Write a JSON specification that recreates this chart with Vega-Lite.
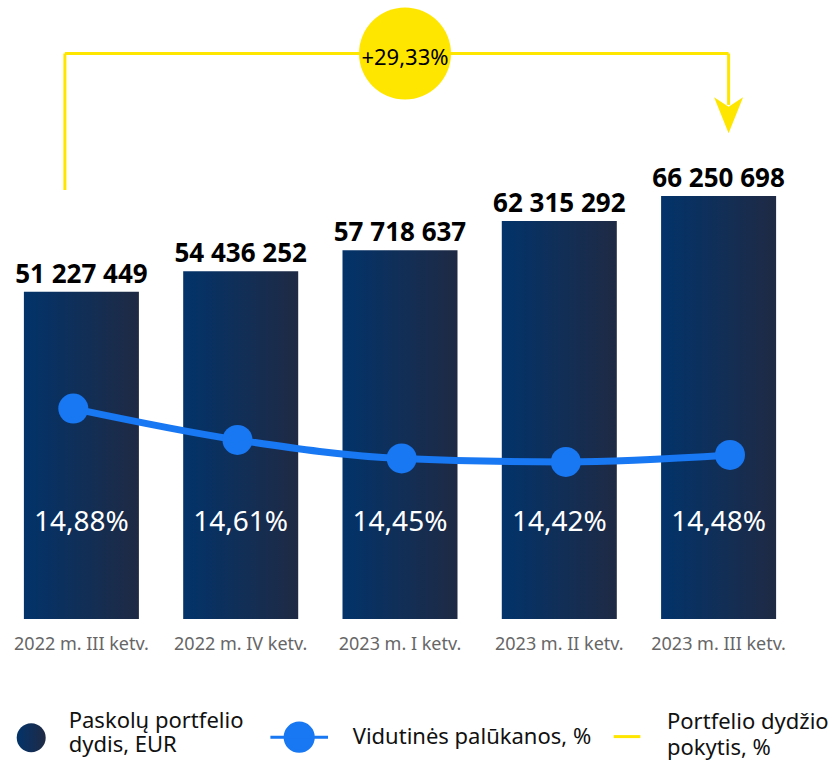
{
  "$schema": "https://vega.github.io/schema/vega-lite/v6.json",
  "width": 800,
  "height": 619,
  "autosize": {"type": "none"},
  "padding": {"left": 0, "top": 0, "right": 33, "bottom": 143},
  "background": "white",
  "config": {
    "view": {"stroke": null},
    "font": "Noto Sans",
    "locale": {"number": {"decimal": ",", "thousands": " ", "grouping": [3], "currency": ["", " €"]}}
  },
  "datasets": {
    "q": [
      {"quarter": "2022 m. III ketv.", "portfolio": 51227449, "rate": 0.1488},
      {"quarter": "2022 m. IV ketv.", "portfolio": 54436252, "rate": 0.1461},
      {"quarter": "2023 m. I ketv.", "portfolio": 57718637, "rate": 0.1445},
      {"quarter": "2023 m. II ketv.", "portfolio": 62315292, "rate": 0.1442},
      {"quarter": "2023 m. III ketv.", "portfolio": 66250698, "rate": 0.1448}
    ],
    "chg": [
      {"from": "2022 m. III ketv.", "to": "2023 m. III ketv.", "mid": "2023 m. I ketv.", "change": 0.2933}
    ]
  },
  "layer": [
    {
      "encoding": {
        "x": {
          "field": "quarter", "type": "nominal", "sort": null,
          "scale": {"domain": ["2022 m. III ketv.", "2022 m. IV ketv.", "2023 m. I ketv.", "2023 m. II ketv.", "2023 m. III ketv."], "paddingInner": 0.278, "paddingOuter": 0.15},
          "axis": {"title": null, "domain": false, "ticks": false, "labelAngle": 0, "labelFontSize": 18, "labelColor": "#666666", "labelPadding": 16, "labelFont": "Noto Sans", "labelLimit": 300}
        }
      },
      "layer": [
        {
          "data": {"name": "q"},
          "mark": {"type": "bar", "color": {"gradient": "linear", "x1": 0, "y1": 0, "x2": 1, "y2": 0, "stops": [{"offset": 0, "color": "#02336A"}, {"offset": 1, "color": "#1F2A44"}]}},
          "encoding": {
            "y": {"field": "portfolio", "type": "quantitative", "scale": {"domain": [0, 96920000], "nice": false}, "axis": null},
            "opacity": {
              "datum": "Paskolų portfelio dydis, EUR",
              "type": "ordinal",
              "scale": {"range": [1, 1]},
              "legend": {
                "title": null, "orient": "none", "legendX": 16.7, "legendY": 706.5,
                "padding": 0, "symbolType": "M-1,1.15A1,1,0,1,1,1,1.15A1,1,0,1,1,-1,1.15Z", "symbolSize": 841, "symbolStrokeWidth": 0,
                "labelFont": "Noto Sans", "labelFontSize": 22, "labelColor": "#111111", "labelLimit": 400, "labelOffset": 23,
                "labelExpr": "['Paskolų portfelio', 'dydis, EUR']",
                "encode": {
                  "symbols": {"update": {"fill": {"value": "#0E2F58"}, "opacity": {"value": 1}}}
                }
              }
            }
          }
        },
        {
          "data": {"name": "q"},
          "mark": {"type": "text", "baseline": "alphabetic", "dy": -9, "fontSize": 26, "fontWeight": "bold", "color": "#000000", "font": "Noto Sans"},
          "encoding": {
            "y": {"field": "portfolio", "type": "quantitative"},
            "text": {"field": "portfolio", "type": "quantitative", "format": ",.0f"}
          }
        },
        {
          "data": {"name": "q"},
          "mark": {"type": "text", "baseline": "alphabetic", "fontSize": 28, "color": "#FFFFFF", "font": "Noto Sans"},
          "encoding": {
            "y": {"datum": 13820000, "type": "quantitative"},
            "text": {"field": "rate", "type": "quantitative", "format": ".2%"}
          }
        },
        {
          "data": {"name": "chg"},
          "mark": {"type": "rule", "strokeWidth": 3, "xOffset": -16.5, "x2Offset": 10},
          "encoding": {
            "x": {"field": "from", "type": "nominal"},
            "x2": {"field": "to"},
            "y": {"datum": 88540000, "type": "quantitative"},
            "color": {
              "datum": "Portfelio dydžio pokytis, %",
              "scale": {"range": ["#FFE600"]},
              "legend": {
                "title": null, "orient": "none", "legendX": 612, "legendY": 721.6,
                "padding": 0, "symbolType": "stroke", "symbolSize": 713, "symbolStrokeWidth": 3,
                "labelFont": "Noto Sans", "labelFontSize": 22, "labelColor": "#111111", "labelLimit": 400, "labelOffset": 25,
                "labelExpr": "['Portfelio dydžio', 'pokytis, %']",
                "encode": {"labels": {"update": {"lineHeight": {"value": 26}, "dy": {"value": -15}}}}
              }
            }
          }
        },
        {
          "data": {"name": "chg"},
          "mark": {"type": "rule", "strokeWidth": 3, "xOffset": -16.5, "color": "#FFE600"},
          "encoding": {
            "x": {"field": "from", "type": "nominal"},
            "y": {"datum": 88540000, "type": "quantitative"},
            "y2": {"datum": 67170000}
          }
        },
        {
          "data": {"name": "chg"},
          "mark": {"type": "rule", "strokeWidth": 3, "xOffset": 10, "color": "#FFE600"},
          "encoding": {
            "x": {"field": "to", "type": "nominal"},
            "y": {"datum": 88540000, "type": "quantitative"},
            "y2": {"datum": 80500000}
          }
        },
        {
          "data": {"name": "chg"},
          "mark": {"type": "point", "shape": "M-1,-1.1L0,1.38L1,-1.1L0,-0.45Z", "filled": true, "opacity": 1, "size": 841, "color": "#FFE600", "xOffset": 10, "strokeWidth": 0},
          "encoding": {
            "x": {"field": "to", "type": "nominal"},
            "y": {"datum": 79180000, "type": "quantitative"}
          }
        },
        {
          "data": {"name": "chg"},
          "mark": {"type": "point", "shape": "circle", "filled": true, "opacity": 1, "size": 8464, "color": "#FFE600", "xOffset": 5, "strokeWidth": 0},
          "encoding": {
            "x": {"field": "mid", "type": "nominal"},
            "y": {"datum": 88540000, "type": "quantitative"}
          }
        },
        {
          "data": {"name": "chg"},
          "mark": {"type": "text", "baseline": "alphabetic", "fontSize": 22, "color": "#000000", "xOffset": 5, "font": "Noto Sans"},
          "encoding": {
            "x": {"field": "mid", "type": "nominal"},
            "y": {"datum": 86740000, "type": "quantitative"},
            "text": {"field": "change", "type": "quantitative", "format": "+.2%"}
          }
        }
      ]
    },
    {
      "data": {"name": "q"},
      "encoding": {
        "x": {
          "field": "quarter", "type": "nominal", "sort": null,
          "scale": {"type": "point", "domain": ["2022 m. III ketv.", "2022 m. IV ketv.", "2023 m. I ketv.", "2023 m. II ketv.", "2023 m. III ketv."], "range": [73.3, 730], "padding": 0},
          "axis": null
        },
        "y": {"field": "rate", "type": "quantitative", "scale": {"domain": [0.13066, 0.18402], "nice": false, "zero": false}, "axis": null}
      },
      "layer": [
        {
          "mark": {"type": "line", "strokeWidth": 7, "interpolate": "monotone"},
          "encoding": {
            "stroke": {
              "datum": "Vidutinės palūkanos, %",
              "scale": {"range": ["#1877F2"]},
              "legend": {
                "title": null, "orient": "none", "legendX": 268.7, "legendY": 706.7,
                "padding": 0, "symbolType": "M-1,0L1,0M-0.49,0A0.49,0.49,0,1,1,0.49,0A0.49,0.49,0,1,1,-0.49,0Z",
                "symbolSize": 3318, "symbolStrokeWidth": 3,
                "labelFont": "Noto Sans", "labelFontSize": 22, "labelColor": "#111111", "labelLimit": 400, "labelOffset": 23,
                "encode": {"symbols": {"update": {"fill": {"value": "#1877F2"}, "stroke": {"value": "#1877F2"}}}}
              }
            }
          }
        },
        {
          "mark": {"type": "point", "filled": true, "opacity": 1, "size": 900, "color": "#1877F2"}
        }
      ]
    }
  ],
  "resolve": {"scale": {"x": "independent", "y": "independent"}}
}
